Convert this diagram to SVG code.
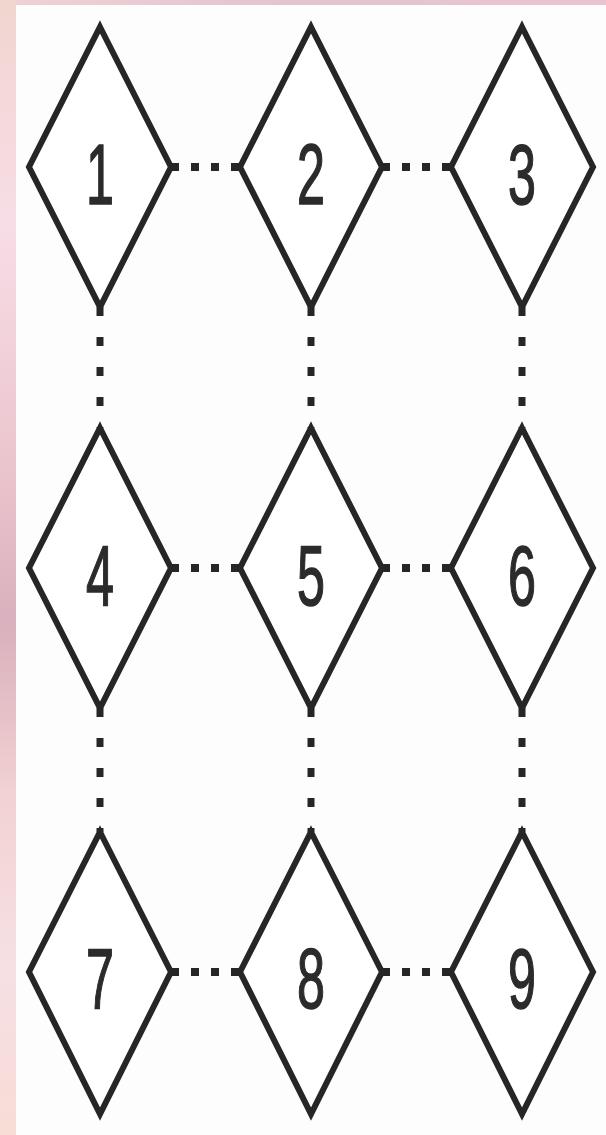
<svg xmlns="http://www.w3.org/2000/svg" width="606" height="1135" viewBox="0 0 606 1135">
  <defs>
    <linearGradient id="pinkL" x1="0" y1="0" x2="0" y2="1">
      <stop offset="0" stop-color="#f0d6cf"/>
      <stop offset="0.2" stop-color="#f7dde6"/>
      <stop offset="0.4" stop-color="#ecc6cf"/>
      <stop offset="0.55" stop-color="#d9b0bd"/>
      <stop offset="0.7" stop-color="#f2d2d2"/>
      <stop offset="0.85" stop-color="#f6e0e4"/>
      <stop offset="1" stop-color="#f8dcd6"/>
    </linearGradient>
    <linearGradient id="pinkT" x1="0" y1="0" x2="1" y2="0">
      <stop offset="0" stop-color="#efd2d6"/>
      <stop offset="0.5" stop-color="#e3c3cf"/>
      <stop offset="1" stop-color="#e9c4d0"/>
    </linearGradient>
    <style>
      .d { fill: #ffffff; stroke: #262626; stroke-width: 6; stroke-linejoin: miter; }
      .n { font-family: "Liberation Sans", Arial, sans-serif; font-size: 86px; fill: #2b2b2b; stroke: #2b2b2b; stroke-width: 1.5; text-anchor: middle; }
      .h { stroke: #262626; stroke-width: 8; stroke-dasharray: 8 12; fill: none; }
      .v { stroke: #262626; stroke-width: 7; stroke-dasharray: 9 21; fill: none; }
    </style>
  </defs>
  <rect x="0" y="0" width="606" height="1135" fill="#fdfdfd"/>
  <rect x="0" y="0" width="606" height="5" fill="url(#pinkT)"/>
  <rect x="0" y="0" width="16" height="1135" fill="url(#pinkL)"/>

  <g id="connectors">
    <line class="h" x1="171" y1="167" x2="241" y2="167"/>
    <line class="h" x1="382" y1="167" x2="452" y2="167"/>
    <line class="h" x1="171" y1="568" x2="241" y2="568"/>
    <line class="h" x1="382" y1="568" x2="452" y2="568"/>
    <line class="h" x1="171" y1="972" x2="241" y2="972"/>
    <line class="h" x1="382" y1="972" x2="452" y2="972"/>
    <line class="v" x1="100" y1="307" x2="100" y2="428"/>
    <line class="v" x1="311" y1="307" x2="311" y2="428"/>
    <line class="v" x1="522" y1="307" x2="522" y2="428"/>
    <line class="v" x1="100" y1="708" x2="100" y2="832"/>
    <line class="v" x1="311" y1="708" x2="311" y2="832"/>
    <line class="v" x1="522" y1="708" x2="522" y2="832"/>
  </g>

  <g id="node1"><polygon class="d" points="100,27 171,167 100,307 29,167"/><text class="n" x="100" y="204" textLength="28" lengthAdjust="spacingAndGlyphs">1</text></g>
  <g id="node2"><polygon class="d" points="311,27 382,167 311,307 240,167"/><text class="n" x="311" y="204" textLength="28" lengthAdjust="spacingAndGlyphs">2</text></g>
  <g id="node3"><polygon class="d" points="522,27 593,167 522,307 451,167"/><text class="n" x="522" y="204" textLength="28" lengthAdjust="spacingAndGlyphs">3</text></g>
  <g id="node4"><polygon class="d" points="100,428 171,568 100,708 29,568"/><text class="n" x="100" y="605" textLength="28" lengthAdjust="spacingAndGlyphs">4</text></g>
  <g id="node5"><polygon class="d" points="311,428 382,568 311,708 240,568"/><text class="n" x="311" y="605" textLength="28" lengthAdjust="spacingAndGlyphs">5</text></g>
  <g id="node6"><polygon class="d" points="522,428 593,568 522,708 451,568"/><text class="n" x="522" y="605" textLength="28" lengthAdjust="spacingAndGlyphs">6</text></g>
  <g id="node7"><polygon class="d" points="100,832 171,972 100,1114 29,972"/><text class="n" x="100" y="1008" textLength="28" lengthAdjust="spacingAndGlyphs">7</text></g>
  <g id="node8"><polygon class="d" points="311,832 382,972 311,1114 240,972"/><text class="n" x="311" y="1008" textLength="28" lengthAdjust="spacingAndGlyphs">8</text></g>
  <g id="node9"><polygon class="d" points="522,832 593,972 522,1114 451,972"/><text class="n" x="522" y="1008" textLength="28" lengthAdjust="spacingAndGlyphs">9</text></g>
</svg>
